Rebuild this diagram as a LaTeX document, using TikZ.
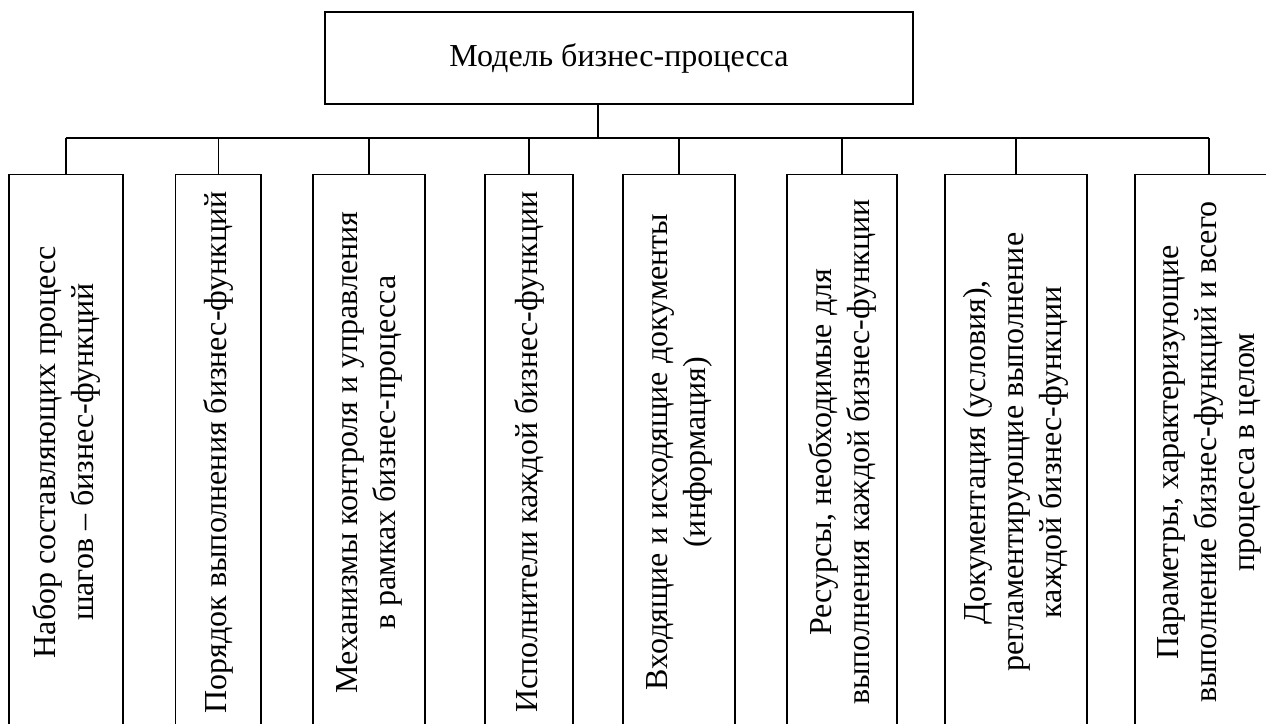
\documentclass[tikz,border=0pt]{standalone}
\usepackage{fontspec}
\setmainfont{Liberation Serif}
\usepackage{tikz}
\usetikzlibrary{positioning}

\tikzset{
  box/.style={draw, line width=0.7pt, inner sep=0pt, align=center,
    font=\fontsize{16}{19}\selectfont},
  part/.style={box, rotate=90, minimum width=277.75pt, minimum height=#1}
}

\begin{document}
\begin{tikzpicture}[x=0.5pt, y=-0.5pt]
                \useasboundingbox (0,0) rectangle (1266,724);
                \node[box, minimum width=294pt, minimum height=46pt] (model) at (619,58) {Модель бизнес-процесса};
                \node[part=57pt] (p1) at (66,452.25) {Набор составляющих процесс\\шагов -- бизнес-функций};
                \node[part=42.75pt] (p2) at (218.25,452.25) {Порядок выполнения бизнес-функций};
                \node[part=56pt] (p3) at (369,452.25) {Механизмы контроля и управления\\в рамках бизнес-процесса};
                \node[part=44pt] (p4) at (529,452.25) {Исполнители каждой бизнес-функции};
                \node[part=56pt] (p5) at (679,452.25) {Входящие и исходящие документы\\(информация)};
                \node[part=55pt] (p6) at (842,452.25) {Ресурсы, необходимые для\\выполнения каждой бизнес-функции};
                \node[part=71pt] (p7) at (1016,452.25) {Документация (условия),\\регламентирующие выполнение\\каждой бизнес-функции};
                \node[part=74pt] (p8) at (1209,452.25) {Параметры, характеризующие\\выполнение бизнес-функций и всего\\процесса в целом};
                \coordinate (split) at (598,138);
                \draw[line width=0.7pt] (model.south -| split) -- (split);
                \draw[line width=0.7pt] (p1.east |- split) -- (p8.east |- split);
                \foreach \n in {1,...,8}
                    \draw[line width=0.7pt] (p\n.east) -- (p\n.east |- split);
            \end{tikzpicture}
\end{document}
